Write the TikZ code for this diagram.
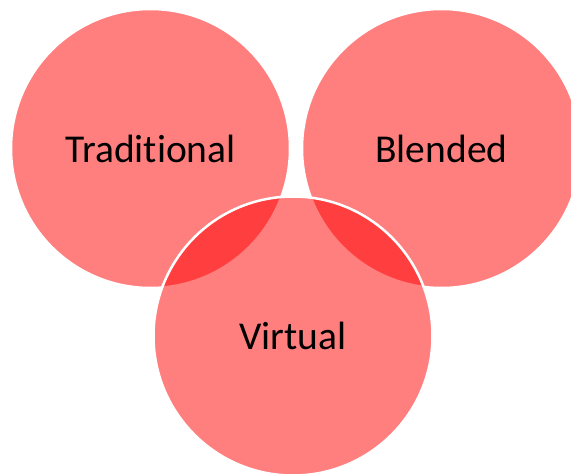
\documentclass[tikz,border=0pt]{standalone}
\usepackage{fontspec}
\setmainfont[Ligatures=NoCommon]{Carlito}
\begin{document}
\begin{tikzpicture}[x=1pt,y=-1pt,
  venn/.style={circle, minimum size=279pt, inner sep=0pt, fill=red, fill opacity=0.5, text opacity=1, draw=white, line width=2.5pt, font=\fontsize{39.5}{47}\selectfont, text=black}]
\useasboundingbox (0,0) rectangle (571,474);
\node[venn] (trad) at (150.5,148.5) {Traditional};
\node[venn] (blend) at (441.5,148.5) {Blended};
\node[venn] (virt) at (293,336) {Virtual};
\end{tikzpicture}
\end{document}
